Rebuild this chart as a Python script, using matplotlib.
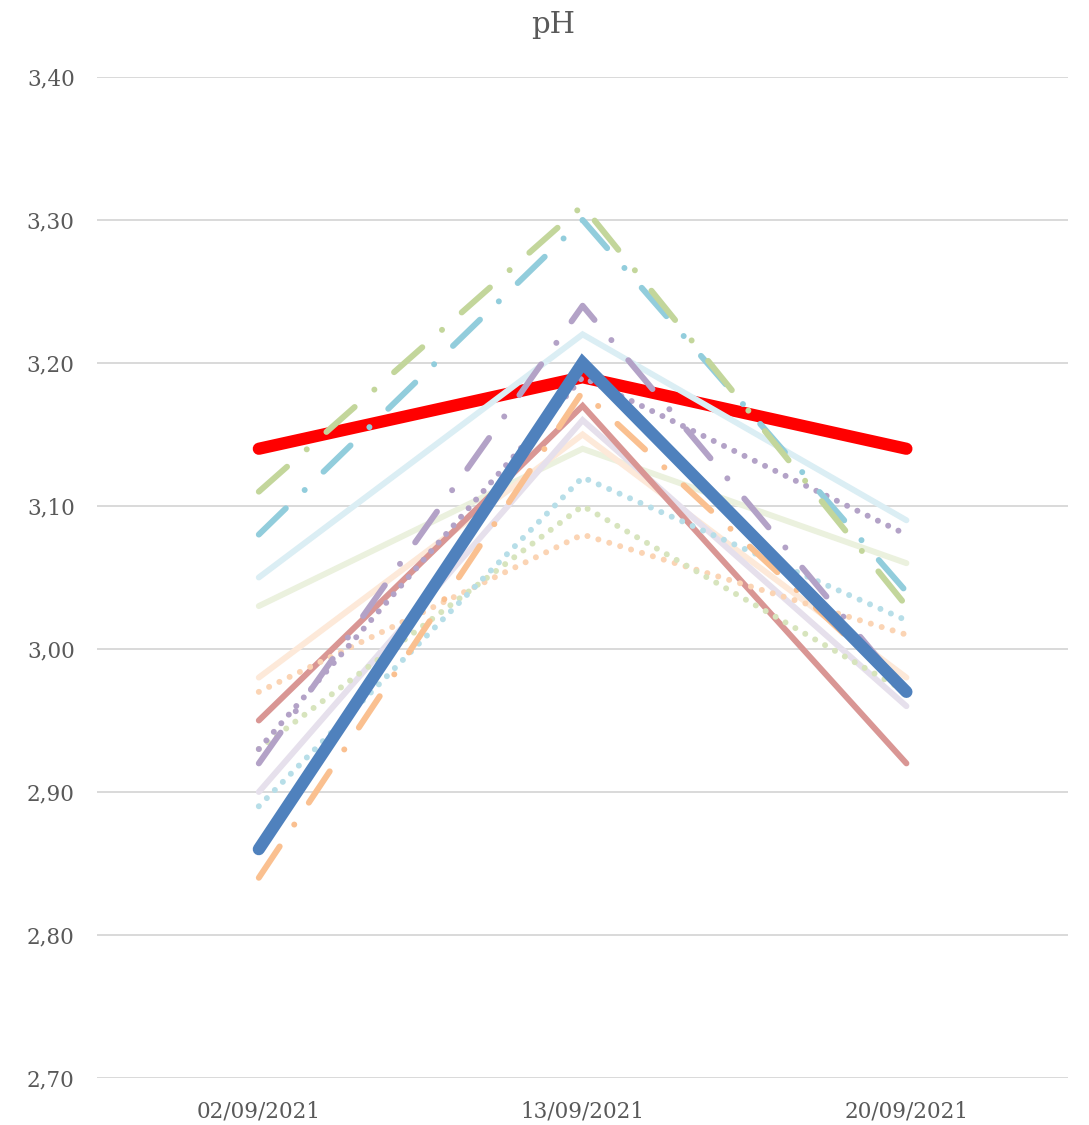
import matplotlib
matplotlib.use("Agg")
import matplotlib.pyplot as plt

# pH readings on three dates
dates = ["02/09/2021", "13/09/2021", "20/09/2021"]

ph_red = [3.14, 3.19, 3.14]
ph_green_dd = [3.11, 3.31, 3.03]
ph_blue_dd = [3.08, 3.30, 3.04]
ph_lightblue = [3.05, 3.22, 3.09]
ph_lightgreen = [3.03, 3.14, 3.06]
ph_peach = [2.98, 3.15, 2.98]
ph_peach_dot = [2.97, 3.08, 3.01]
ph_rose = [2.95, 3.17, 2.92]
ph_green_dot = [2.93, 3.10, 2.97]
ph_purple_dot = [2.93, 3.19, 3.08]
ph_purple_dd = [2.92, 3.24, 2.97]
ph_lilac = [2.90, 3.16, 2.96]
ph_cyan_dot = [2.89, 3.12, 3.02]
ph_orange_dd = [2.84, 3.18, 2.97]
ph_blue = [2.86, 3.20, 2.97]

yticks = [2.70, 2.80, 2.90, 3.00, 3.10, 3.20, 3.30, 3.40]

txt = "#595959"
plt.rcParams['font.family'] = ['DejaVu Serif']

fig = plt.figure(figsize=(10.89, 11.25), dpi=100)
ax = fig.add_axes([0.089, 0.0418, 0.892, 0.8898])

x = range(len(dates))
thin = 4.3
dashdot = (6.3, 4.4, 0.01, 4.4)
dotted = (0.01, 1.9)

def draw(vals, color, lw=thin, dashes=None, z=2):
    ln, = ax.plot(x, vals, color=color, lw=lw, solid_capstyle="round",
                  solid_joinstyle="miter", dash_capstyle="round", zorder=z)
    if dashes:
        ln.set_dashes(dashes)

draw(ph_red, "#FF0000", lw=8.8, z=2)
draw(ph_lightgreen, "#EBF1DE", z=3)
draw(ph_peach, "#FDE9D9", z=3)
draw(ph_lilac, "#E6E0EC", z=3)
draw(ph_lightblue, "#DBEEF4", z=3)
draw(ph_rose, "#D99694", z=3)
draw(ph_peach_dot, "#FBD4B4", dashes=dotted, z=3)
draw(ph_green_dot, "#D7E4BD", dashes=dotted, z=3)
draw(ph_cyan_dot, "#B7DEE8", dashes=dotted, z=3)
draw(ph_purple_dot, "#B3A2C7", dashes=dotted, z=3)
draw(ph_orange_dd, "#FAC090", dashes=dashdot, z=3)
draw(ph_purple_dd, "#B3A2C7", dashes=dashdot, z=3)
draw(ph_blue_dd, "#92CDDC", dashes=dashdot, z=3)
draw(ph_green_dd, "#C3D69B", dashes=dashdot, z=3)
draw(ph_blue, "#4F81BD", lw=8.8, z=4)

ax.set_xlim(-0.5, 2.5)
ax.set_ylim(2.70, 3.40)
ax.set_xticks(list(x))
ax.set_xticklabels(dates)
ax.set_yticks(yticks)
ax.set_yticklabels([f"{v:.2f}".replace(".", ",") for v in yticks])
ax.tick_params(length=0, labelsize=15.5, colors=txt)
ax.tick_params(axis="y", pad=16)
ax.tick_params(axis="x", pad=16)
ax.grid(axis="y", color="#D9D9D9", lw=1.4, zorder=0)
for s in ax.spines.values():
    s.set_visible(False)
fig.text(0.508, 1 - 25 / 1125, "pH", fontsize=21, color=txt,
         ha="center", va="center")

fig.savefig("out.png", dpi=100)
